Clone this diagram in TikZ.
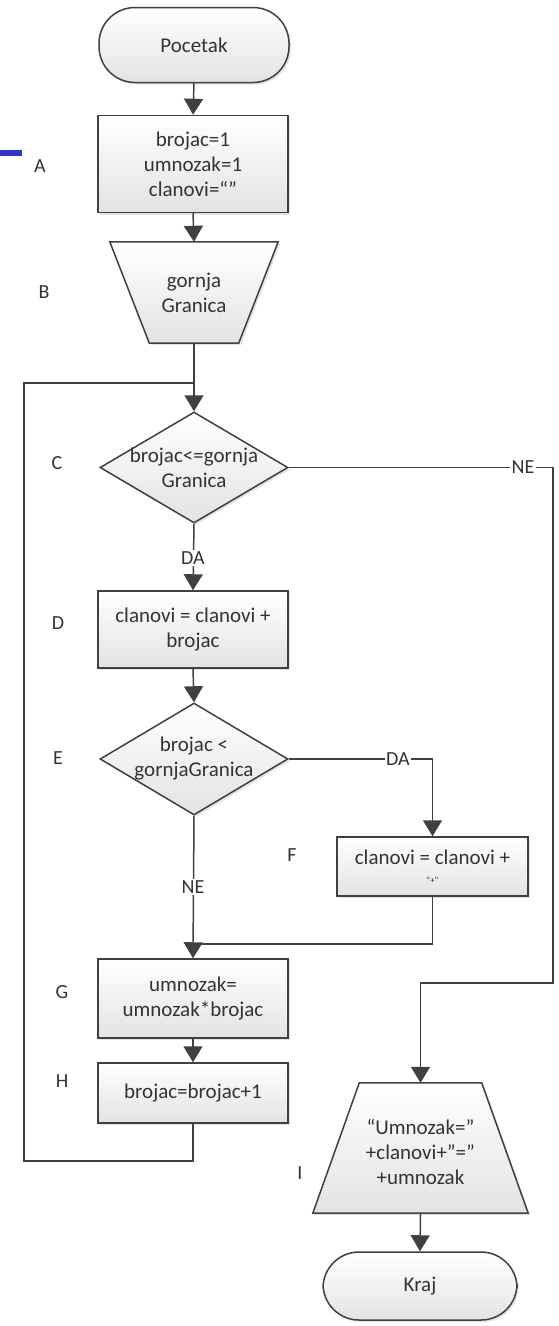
\documentclass[tikz,border=0pt]{standalone}
\usepackage{fontspec}
\setmainfont{Carlito}
\usetikzlibrary{arrows.meta,shapes.geometric,shadows}
\definecolor{ln}{HTML}{404040}
\definecolor{tx}{HTML}{333333}
\definecolor{barblue}{RGB}{50,50,205}
\begin{document}
\begin{tikzpicture}[x=1pt,y=-1pt,
  base/.style={draw=ln, line width=1.5pt, top color=white, bottom color=gray!22,
    drop shadow={shadow xshift=2pt,shadow yshift=-2pt,opacity=0.22}},
  box/.style={base, rectangle, minimum width=190pt, inner sep=0pt, text=tx,
    font=\fontsize{21}{25}\selectfont, align=center},
  term/.style={box, rounded corners=36pt},
  dia/.style={base, diamond, inner sep=0pt},
  ghost/.style={rectangle, inner sep=0pt},
  txt/.style={text=tx, font=\fontsize{21}{25}\selectfont, align=center, inner sep=0pt},
  lbl/.style={text=tx, font=\fontsize{20}{24}\selectfont, inner sep=0pt},
  elbl/.style={text=tx, font=\fontsize{20}{24}\selectfont, fill=white, inner sep=1.5pt},
  conn/.style={draw=ln, line width=1.5pt},
  arr/.style={conn, -{Triangle[width=19pt,length=16pt]}}
]
\useasboundingbox (0,0) rectangle (559,1326);

% blue bar
\fill[barblue] (0,150) rectangle (22,156);

% nodes
\node[term, minimum width=190pt, minimum height=75pt] (P) at (194,45) {Pocetak};
\node[box, minimum height=97pt] (A) at (193,164) {brojac=1\\umnozak=1\\clanovi=“”};

\node[ghost, minimum width=168pt, minimum height=101pt] (B) at (194,292.5) {};
\draw[base] (B.north west) -- (B.north east) -- ([xshift=-39.5pt]B.south east)
  -- ([xshift=39.5pt]B.south west) -- cycle;
\node[txt] (Bt) at (B) {gornja\\Granica};

\node[dia, minimum width=188pt, minimum height=111pt] (C) at (194,467.5) {};
\node[txt] (Ct) at (C) {brojac<=gornja\\Granica};

\node[box, minimum height=77pt] (D) at (193,629.5) {clanovi = clanovi +\\brojac};

\node[dia, minimum width=188pt, minimum height=112pt] (E) at (194,759) {};
\node[txt] (Et) at (E) {brojac <\\gornjaGranica};

\node[box, minimum width=191pt, minimum height=59pt] (F) at (432.5,866.5)
  {clanovi = clanovi +\\[-6pt]{\fontsize{9}{10}\selectfont “+”}};

\node[box, minimum height=79pt] (G) at (193,998.5) {umnozak=\\umnozak*brojac};
\node[box, minimum height=60pt] (H) at (193,1093) {brojac=brojac+1};

\node[ghost, minimum width=215pt, minimum height=130pt] (I) at (420.5,1148) {};
\draw[base] ([xshift=46.5pt]I.north west) -- ([xshift=-46.5pt]I.north east)
  -- (I.south east) -- (I.south west) -- cycle;
\node[txt] (It) at (420.5,1152) {“Umnozak=”\\+clanovi+”=”\\+umnozak};

\node[term, minimum width=194pt, minimum height=68pt] (K) at (420,1286) {Kraj};

% side labels
\node[lbl] at (40,166) {A};
\node[lbl] at (44,292) {B};
\node[lbl] at (57,463) {C};
\node[lbl] at (58,623) {D};
\node[lbl] at (58,758) {E};
\node[lbl] at (292,855) {F};
\node[lbl] at (62,992) {G};
\node[lbl] at (62,1081) {H};
\node[lbl] at (300,1173) {I};

% helper coordinates
\coordinate (j1) at (194,383);
\coordinate (lb) at (24,1161);
\coordinate (r1) at (553,983);
\coordinate (j2) at (193,944);

% connectors
\draw[arr] (P.south) -- (A.north);
\draw[arr] (A.south) -- (B.north);
\draw[arr] (B.south) -- (C.north);
\draw[conn] (H.south) |- (lb) |- (j1);
\draw[arr] (C.south) -- (D.north);
\draw[arr] (C.east) -| (r1) -| (I.north);
\draw[arr] (D.south) -- (E.north);
\draw[arr] (E.east) -| (F.north);
\draw[arr] (E.south) -- (G.north);
\draw[conn] (F.south) |- (j2);
\draw[arr] (G.south) -- (H.north);
\draw[arr] (I.south) -- (K.north);

% connector labels
\node[elbl] at (193,558) {DA};
\node[elbl] at (523,467.5) {NE};
\node[elbl] at (398,759) {DA};
\node[elbl] at (193,887) {NE};
\end{tikzpicture}
\end{document}
